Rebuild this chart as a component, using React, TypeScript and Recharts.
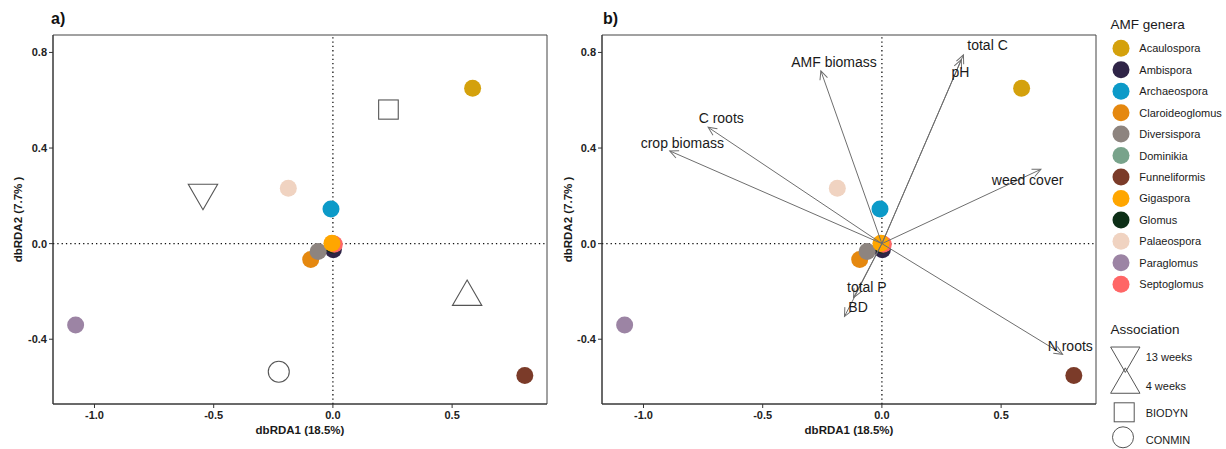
import { ReferenceArea, ReferenceLine, Scatter, ScatterChart, XAxis, YAxis } from 'recharts'

const FONT = '"Liberation Sans", Arial, sans-serif'

const GENERA = [
  'Acaulospora', 'Ambispora', 'Archaeospora', 'Claroideoglomus', 'Diversispora', 'Dominikia',
  'Funneliformis', 'Gigaspora', 'Glomus', 'Palaeospora', 'Paraglomus', 'Septoglomus',
]
const GENUS_X = [0.586, 0.002, -0.008, -0.093, -0.062, 0.0, 0.805, -0.004, 0.0, -0.187, -1.079, 0.006]
const GENUS_Y = [0.650, -0.026, 0.145, -0.066, -0.033, 0.0, -0.552, 0.002, -0.006, 0.232, -0.340, -0.003]
const GENUS_COLORS = [
  '#D4A10C', '#2F2447', '#0C9AC8', '#E5880F', '#8D847F', '#78A38B',
  '#7B3B29', '#FFA600', '#0D2F17', '#F0D3C1', '#9C84A4', '#FF6666',
]
// order the dots are painted in (Gigaspora ends up on top at the origin)
const DRAW_ORDER = [
  'Acaulospora', 'Ambispora', 'Archaeospora', 'Claroideoglomus', 'Dominikia', 'Glomus',
  'Septoglomus', 'Diversispora', 'Funneliformis', 'Palaeospora', 'Paraglomus', 'Gigaspora',
]

const ASSOC_NAMES = ['13 weeks', '4 weeks', 'BIODYN', 'CONMIN']
const ASSOC_SHAPES = ['down', 'up', 'square', 'circle']
const ASSOC_X = [-0.545, 0.563, 0.233, -0.227]
const ASSOC_Y = [0.213, -0.223, 0.561, -0.536]

const VECTOR_NAMES = ['total C', 'pH', 'AMF biomass', 'C roots', 'crop biomass', 'weed cover', 'N roots', 'total P', 'BD']
const VECTOR_X = [0.342, 0.333, -0.256, -0.729, -0.890, 0.667, 0.758, -0.119, -0.157]
const VECTOR_Y = [0.790, 0.770, 0.723, 0.487, 0.388, 0.311, -0.463, -0.226, -0.305]
const VECTOR_LABEL_X = [0.443, 0.329, -0.201, -0.674, -0.837, 0.611, 0.790, -0.063, -0.100]
const VECTOR_LABEL_Y = [0.831, 0.720, 0.762, 0.526, 0.423, 0.265, -0.428, -0.182, -0.266]

const X_TICKS = [-1, -0.5, 0, 0.5]
const Y_TICKS = [-0.4, 0, 0.4, 0.8]
const X_DOMAIN: [number, number] = [-1.174, 0.898]
const Y_DOMAIN: [number, number] = [-0.671, 0.873]

const genusData = DRAW_ORDER.map((name) => {
  const i = GENERA.indexOf(name)
  return { name, x: GENUS_X[i], y: GENUS_Y[i], color: GENUS_COLORS[i] }
})
const assocData = ASSOC_NAMES.map((name, i) => ({ name, x: ASSOC_X[i], y: ASSOC_Y[i], shape: ASSOC_SHAPES[i] }))
const vectorLabels = VECTOR_NAMES.map((name, i) => ({ name, x: VECTOR_LABEL_X[i], y: VECTOR_LABEL_Y[i] }))

const MARK_STROKE = '#555'
const ARROW_COLOR = '#6e6e6e'

function GenusDot(props: any) {
  return <circle cx={props.cx} cy={props.cy} r={8.5} fill={props.payload.color} />
}

// triangle proportions follow R's pch 2 / 6
function triangle(cx: number, cy: number, xc: number, up: boolean) {
  const r = 1.5551 * xc
  const yc = 0.7776 * xc
  const hw = 1.3468 * xc
  const s = up ? 1 : -1
  return `M${cx},${cy - s * r}L${cx + hw},${cy + s * yc}L${cx - hw},${cy + s * yc}Z`
}

function AssocMark(props: any) {
  const { cx, cy, payload } = props
  const common = { fill: 'none', stroke: MARK_STROKE, strokeWidth: 1.1 }
  if (payload.shape === 'up' || payload.shape === 'down') {
    return <path d={triangle(cx, cy, 10.9, payload.shape === 'up')} {...common} />
  }
  if (payload.shape === 'square') {
    return <rect x={cx - 9.8} y={cy - 9.6} width={19.6} height={19.2} {...common} />
  }
  return <circle cx={cx} cy={cy} r={10.5} {...common} />
}

function VectorLabel(props: any) {
  return (
    <text x={props.cx} y={props.cy} textAnchor="middle" dominantBaseline="central"
      fontFamily={FONT} fontSize={14} fill="#1a1a1a">
      {props.payload.name}
    </text>
  )
}

const NoDot = () => <g />

const tickStyle = { fontSize: 11, fontWeight: 'bold', fill: '#222', fontFamily: FONT }

function axes() {
  return [
    <XAxis key="x" dataKey="x" type="number" domain={X_DOMAIN} ticks={X_TICKS} allowDataOverflow
      tickFormatter={(v: number) => v.toFixed(1)} tick={tickStyle} tickSize={4} tickMargin={3}
      axisLine={{ stroke: '#333' }} tickLine={{ stroke: '#333' }} height={30} />,
    <YAxis key="y" dataKey="y" type="number" domain={Y_DOMAIN} ticks={Y_TICKS} allowDataOverflow interval={0}
      tickFormatter={(v: number) => v.toFixed(1)} tick={tickStyle} tickSize={4} tickMargin={2}
      axisLine={{ stroke: '#333' }} tickLine={{ stroke: '#333' }} width={40} />,
    <ReferenceArea key="frame" x1={X_DOMAIN[0]} x2={X_DOMAIN[1]} y1={Y_DOMAIN[0]} y2={Y_DOMAIN[1]}
      fill="none" fillOpacity={0} stroke="#444" strokeWidth={1} ifOverflow="extendDomain" />,
    <ReferenceLine key="v0" x={0} stroke="#111" strokeWidth={1.3} strokeDasharray="1.3 3" />,
    <ReferenceLine key="h0" y={0} stroke="#111" strokeWidth={1.3} strokeDasharray="1.3 3" />,
  ]
}

function PanelA() {
  return (
    <ScatterChart width={560} height={449} margin={{ top: 35, right: 13, bottom: 15, left: 13 }}>
      {axes()}
      <Scatter data={genusData} shape={GenusDot} isAnimationActive={false} />
      <Scatter data={assocData} shape={AssocMark} isAnimationActive={false} />
    </ScatterChart>
  )
}

function PanelB() {
  return (
    <ScatterChart width={550} height={449} margin={{ top: 35, right: 14, bottom: 15, left: 2 }}>
      {axes()}
      <Scatter data={genusData} shape={GenusDot} isAnimationActive={false} />
      {VECTOR_NAMES.map((name, i) => (
        <Scatter key={name} data={[{ x: 0, y: 0 }, { x: VECTOR_X[i], y: VECTOR_Y[i] }]} shape={NoDot}
          line={{ stroke: ARROW_COLOR, strokeWidth: 1, markerEnd: 'url(#arrowHead)' }}
          fill={ARROW_COLOR} isAnimationActive={false} />
      ))}
      <Scatter data={vectorLabels} shape={VectorLabel} isAnimationActive={false} />
    </ScatterChart>
  )
}

function Overlay() {
  const legendTop = 48.3
  const legendStep = 21.45
  const titleStyle = { fontFamily: FONT, fontSize: 11.5, fontWeight: 'bold' as const, fill: '#1a1a1a' }
  return (
    <svg width={1226} height={449} style={{ position: 'absolute', left: 0, top: 0, pointerEvents: 'none' }}>
      <defs>
        <marker id="arrowHead" viewBox="0 0 10 10" refX="9.5" refY="5" markerWidth="9" markerHeight="9"
          markerUnits="userSpaceOnUse" orient="auto" overflow="visible">
          <path d="M0,0.6 L9.5,5 L0,9.4" fill="none" stroke={ARROW_COLOR} strokeWidth={1.1} />
        </marker>
      </defs>

      <text x={51} y={24} fontFamily={FONT} fontSize={16} fontWeight="bold" fill="#111">a)</text>
      <text x={603} y={24} fontFamily={FONT} fontSize={16} fontWeight="bold" fill="#111">b)</text>

      <text x={300} y={430} textAnchor="middle" dominantBaseline="central" {...titleStyle}>dbRDA1 (18.5%)</text>
      <text x={849} y={430} textAnchor="middle" dominantBaseline="central" {...titleStyle}>dbRDA1 (18.5%)</text>
      <text transform="translate(18,219.5) rotate(-90)" textAnchor="middle" dominantBaseline="central" {...titleStyle}>
        dbRDA2 (7.7% )
      </text>
      <text transform="translate(567.5,219.5) rotate(-90)" textAnchor="middle" dominantBaseline="central" {...titleStyle}>
        dbRDA2 (7.7% )
      </text>

      <text x={1110.5} y={24} dominantBaseline="central" fontFamily={FONT} fontSize={13.5} fill="#1a1a1a">AMF genera</text>
      {GENERA.map((name, i) => (
        <g key={name}>
          <circle cx={1121} cy={legendTop + i * legendStep} r={8.5} fill={GENUS_COLORS[i]} />
          <text x={1139.3} y={legendTop + i * legendStep} dominantBaseline="central"
            fontFamily={FONT} fontSize={11} fill="#1a1a1a">{name}</text>
        </g>
      ))}

      <text x={1110.5} y={329.3} dominantBaseline="central" fontFamily={FONT} fontSize={13.5} fill="#1a1a1a">Association</text>
      <path d={triangle(1125.3, 355.5, 10.9, false)} fill="none" stroke={MARK_STROKE} strokeWidth={1} />
      <path d={triangle(1125.3, 384.8, 10.9, true)} fill="none" stroke={MARK_STROKE} strokeWidth={1} />
      <rect x={1114.2} y={402.8} width={20} height={19} fill="none" stroke={MARK_STROKE} strokeWidth={1} />
      <circle cx={1123} cy={437.3} r={10.5} fill="none" stroke={MARK_STROKE} strokeWidth={1} />
      {ASSOC_NAMES.map((name, i) => (
        <text key={name} x={1145.7} y={[357.3, 385.7, 413.3, 440][i]} dominantBaseline="central"
          fontFamily={FONT} fontSize={11} fill="#1a1a1a">{name}</text>
      ))}
    </svg>
  )
}

export default function App() {
  return (
    <div style={{ position: 'absolute', left: 0, top: 0, width: 1226, height: 449, background: '#fff' }}>
      <div style={{ position: 'absolute', left: 0, top: 0 }}>
        <PanelA />
      </div>
      <div style={{ position: 'absolute', left: 560, top: 0 }}>
        <PanelB />
      </div>
      <Overlay />
    </div>
  )
}
